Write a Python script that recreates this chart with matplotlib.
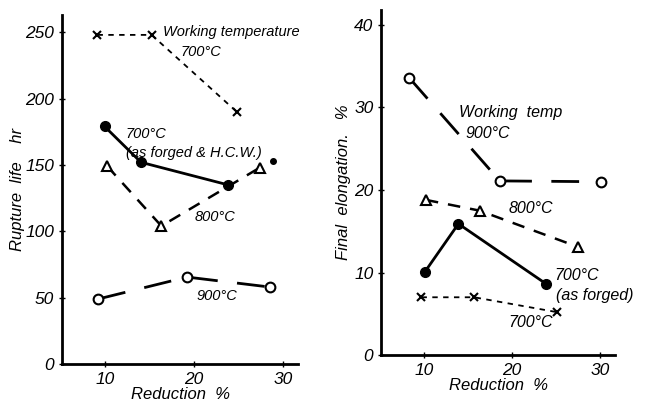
import matplotlib.pyplot as plt

# Rupture life (hr) vs reduction (%)
rl_700w_x = [9.1, 15.2, 24.8]
rl_700w_y = [248, 248, 190]
rl_forged_x = [9.9, 14.0, 23.8]
rl_forged_y = [179, 152, 135]
rl_extra_x = [28.9]
rl_extra_y = [153]
rl_800_x = [10.2, 16.3, 27.4]
rl_800_y = [149, 104, 148]
rl_900_x = [9.2, 19.2, 28.5]
rl_900_y = [49, 65.5, 58]

# Final elongation (%) vs reduction (%)
el_900_x = [8.3, 18.6, 30.1]
el_900_y = [33.6, 21.1, 21.0]
el_800_x = [10.2, 16.3, 27.5]
el_800_y = [18.8, 17.5, 13.1]
el_forged_x = [10.1, 13.9, 23.9]
el_forged_y = [10.1, 15.9, 8.6]
el_700w_x = [9.7, 15.7, 25.1]
el_700w_y = [7.0, 7.0, 5.2]

xticks = [10, 20, 30]
rl_yticks = [0, 50, 100, 150, 200, 250]
el_yticks = [0, 10, 20, 30, 40]

plt.rcParams['font.family'] = ['Liberation Sans', 'DejaVu Sans']
plt.rcParams['font.style'] = 'italic'

fig = plt.figure(figsize=(6.45, 4.03), dpi=100)
ax1 = fig.add_axes([0.0961, 0.0968, 0.366, 0.866])
ax2 = fig.add_axes([0.5907, 0.119, 0.3628, 0.856])

def style(ax, yticks, ylim):
    ax.set_xlim(5.1, 31.7)
    ax.set_ylim(0, ylim)
    ax.set_xticks(xticks)
    ax.set_yticks(yticks)
    for s in ['top', 'right']:
        ax.spines[s].set_visible(False)
    for s in ['left', 'bottom']:
        ax.spines[s].set_linewidth(2)
    ax.tick_params(direction='inout', length=4, width=1, labelsize=12.5)
    for lab in ax.get_xticklabels() + ax.get_yticklabels():
        lab.set_fontstyle('italic')
    ax.set_xlabel('Reduction  %', fontsize=12, labelpad=0)

# left panel
ax1.plot(rl_700w_x, rl_700w_y, color='black', ls=(0, (3, 3)), lw=1.3,
         marker='x', ms=6, mew=1.5)
ax1.plot(rl_forged_x, rl_forged_y, color='black', ls='-', lw=2,
         marker='o', ms=7)
ax1.plot(rl_extra_x, rl_extra_y, color='black', ls='none', marker='o', ms=4)
ax1.plot(rl_800_x, rl_800_y, color='black', ls=(0, (5, 4)), lw=1.8,
         marker='^', ms=7, mfc='white', mew=1.5)
ax1.plot(rl_900_x, rl_900_y, color='black', ls=(0, (10, 7)), lw=2,
         marker='o', ms=7, mfc='white', mew=1.5)
style(ax1, rl_yticks, 263)
ax1.set_ylabel('Rupture  life    hr', fontsize=12, labelpad=0)
ax1.text(16.5, 250, 'Working temperature', fontsize=10.5, va='center')
ax1.text(18.5, 235, '700°C', fontsize=10.5, va='center')
ax1.text(12.3, 173, '700°C', fontsize=10.5, va='center')
ax1.text(12.3, 159, '(as forged & H.C.W.)', fontsize=10.5, va='center')
ax1.text(20.0, 111, '800°C', fontsize=10.5, va='center')
ax1.text(20.3, 51, '900°C', fontsize=10.5, va='center')

# right panel
ax2.plot(el_900_x, el_900_y, color='black', ls=(0, (10, 7)), lw=2,
         marker='o', ms=7, mfc='white', mew=1.5)
ax2.plot(el_800_x, el_800_y, color='black', ls=(0, (5, 4)), lw=1.8,
         marker='^', ms=7, mfc='white', mew=1.5)
ax2.plot(el_forged_x, el_forged_y, color='black', ls='-', lw=2,
         marker='o', ms=7)
ax2.plot(el_700w_x, el_700w_y, color='black', ls=(0, (3, 3)), lw=1.3,
         marker='x', ms=6, mew=1.5)
style(ax2, el_yticks, 41.8)
ax2.set_ylabel('Final  elongation.   %', fontsize=12, labelpad=2)
ax2.text(14.0, 29.4, 'Working  temp', fontsize=11.5, va='center')
ax2.text(14.7, 26.8, '900°C', fontsize=11.5, va='center')
ax2.text(19.6, 17.8, '800°C', fontsize=11.5, va='center')
ax2.text(24.8, 9.6, '700°C', fontsize=11.5, va='center')
ax2.text(25.0, 7.2, '(as forged)', fontsize=11.5, va='center')
ax2.text(19.6, 4.0, '700°C', fontsize=11.5, va='center')

fig.savefig('out.png', dpi=100)
